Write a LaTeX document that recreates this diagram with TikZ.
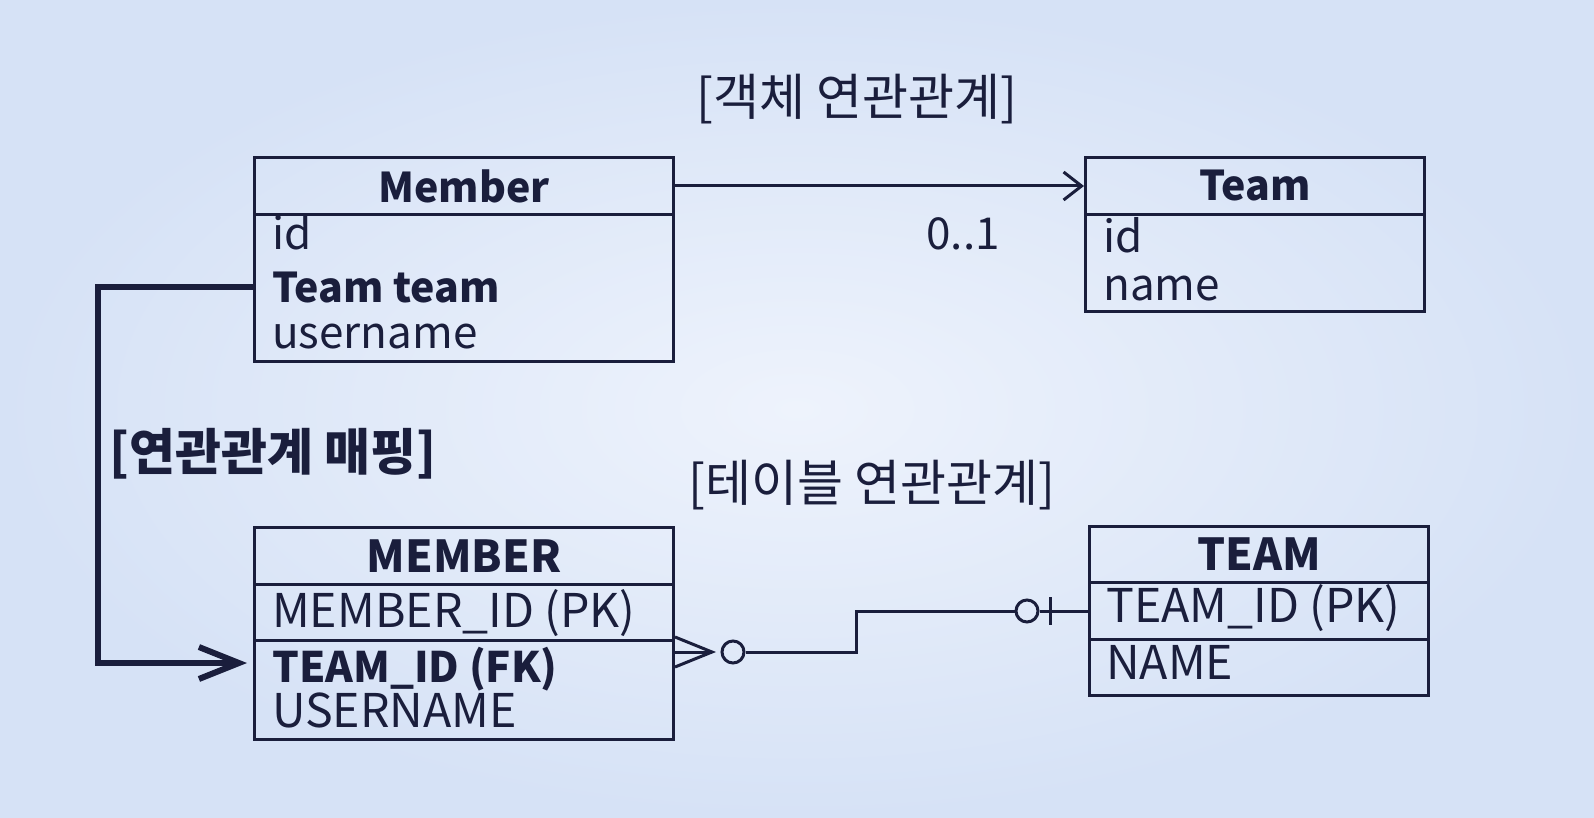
\documentclass[tikz,border=0pt]{standalone}
\usepackage{fontspec}
\setmainfont{Noto Sans CJK KR}
\usetikzlibrary{calc,arrows.meta}
\definecolor{ink}{RGB}{26,30,60}
\definecolor{bgA}{RGB}{214,226,246}
\definecolor{bgB}{RGB}{238,243,252}
\begin{document}
\begin{tikzpicture}[x=1pt,y=-1pt,
  box/.style={draw=ink, line width=3pt, inner sep=0pt, anchor=north west, text=ink},
  hdr/.style={box, font=\fontsize{44}{50}\selectfont\bfseries},
  shdr/.style={box, font=\fontsize{41}{48}\selectfont\bfseries},
  row/.style={anchor=base west, inner sep=0pt, text=ink, font=\fontsize{44}{50}\selectfont},
  brow/.style={row, font=\fontsize{41}{48}\selectfont\bfseries},
  trow/.style={row, font=\fontsize{46.5}{52}\selectfont},
  btrow/.style={row, font=\fontsize{42}{50}\selectfont\bfseries},
  lbl/.style={inner sep=0pt, text=ink, font=\fontsize{44}{50}\selectfont},
  klbl/.style={inner sep=0pt, text=ink, font=\fontsize{50}{56}\selectfont},
  conn/.style={draw=ink, line width=3pt},
  circ/.style={circle, draw=ink, line width=3pt, minimum size=22pt, inner sep=0pt},
  maparrow/.style={draw=ink, line width=6pt, line join=miter, -{Straight Barb[length=40pt,width=32pt]}}
]
\path[use as bounding box] (0,0) rectangle (1594,818);
\shade[inner color=bgB, outer color=bgA] (0,0) rectangle (1594,818);

% object model
\node[shdr, minimum width=419pt, minimum height=57pt] (memH) at (253,156) {Member};
\node[box, minimum width=419pt, minimum height=147pt] (memB) at (253,213) {};
\node[row] (mId) at (272,250) {id};
\node[brow] (mTT) at (272,302) {Team team};
\node[row] (mUser) at (272,348) {username};

\node[shdr, minimum width=339pt, minimum height=57pt] (teamH) at (1084,156) {Team};
\node[box, minimum width=339pt, minimum height=97pt] (teamB) at (1084,213) {};
\node[row] (tId) at (1103,252) {id};
\node[row] (tName) at (1103,300) {name};

\draw[conn, -{Straight Barb[length=18pt,width=28pt]}] (memH.east) -- (teamH.west);
\node[lbl] (mult) at (963,234) {0..1};
\node[klbl] (objlbl) at (857,99) {[객체 연관관계]};

% table model
\node[hdr, minimum width=419pt, minimum height=57pt] (MEMH) at (253,526) {MEMBER};
\node[box, minimum width=419pt, minimum height=56pt] (MEM1) at (253,583) {};
\node[box, minimum width=419pt, minimum height=99pt] (MEM2) at (253,639) {};
\node[trow] (mPK) at (272,627) {MEMBER\_ID (PK)};
\node[btrow] (mFK) at (272,682) {TEAM\_ID (FK)};
\node[trow] (mUN) at (272,727) {USERNAME};

\node[hdr, minimum width=339pt, minimum height=56pt] (TEAMH) at (1088,525) {TEAM};
\node[box, minimum width=339pt, minimum height=57pt] (TEAM1) at (1088,581) {};
\node[box, minimum width=339pt, minimum height=56pt] (TEAM2) at (1088,638) {};
\node[trow] (tPK) at (1106,622) {TEAM\_ID (PK)};
\node[trow] (tNM) at (1106,679) {NAME};

\node[klbl] (tbllbl) at (872,485) {[테이블 연관관계]};

% ER connector
\coordinate (cf) at ($(MEM2.north east)+(0,13)$);
\coordinate (cft) at ($(cf)+(37,0)$);
\draw[conn] (cf) -- (cft);
\draw[conn, line join=miter] ($(cf)+(0,-15)$) -- (cft) -- ($(cf)+(0,15)$);
\node[circ] (c1) at ($(cft)+(21,0)$) {};
\node[circ] (c2) at ($(TEAM1.west)+(-61,0)$) {};
\draw[conn] (c1.east) -- ++(111,0) |- (c2.west);
\draw[conn] (c2.east) -- (TEAM1.west);
\draw[conn] ($(TEAM1.west)+(-38,-14)$) -- ++(0,28);

% mapping arrow
\draw[maparrow] (memB.west |- mTT.center) -- ++(-155,0) |- ($(MEM2.north west)+(-6,24)$);
\node[klbl, font=\fontsize{50}{56}\selectfont\bfseries] (maplbl) at (273,454) {[연관관계 매핑]};
\end{tikzpicture}
\end{document}
